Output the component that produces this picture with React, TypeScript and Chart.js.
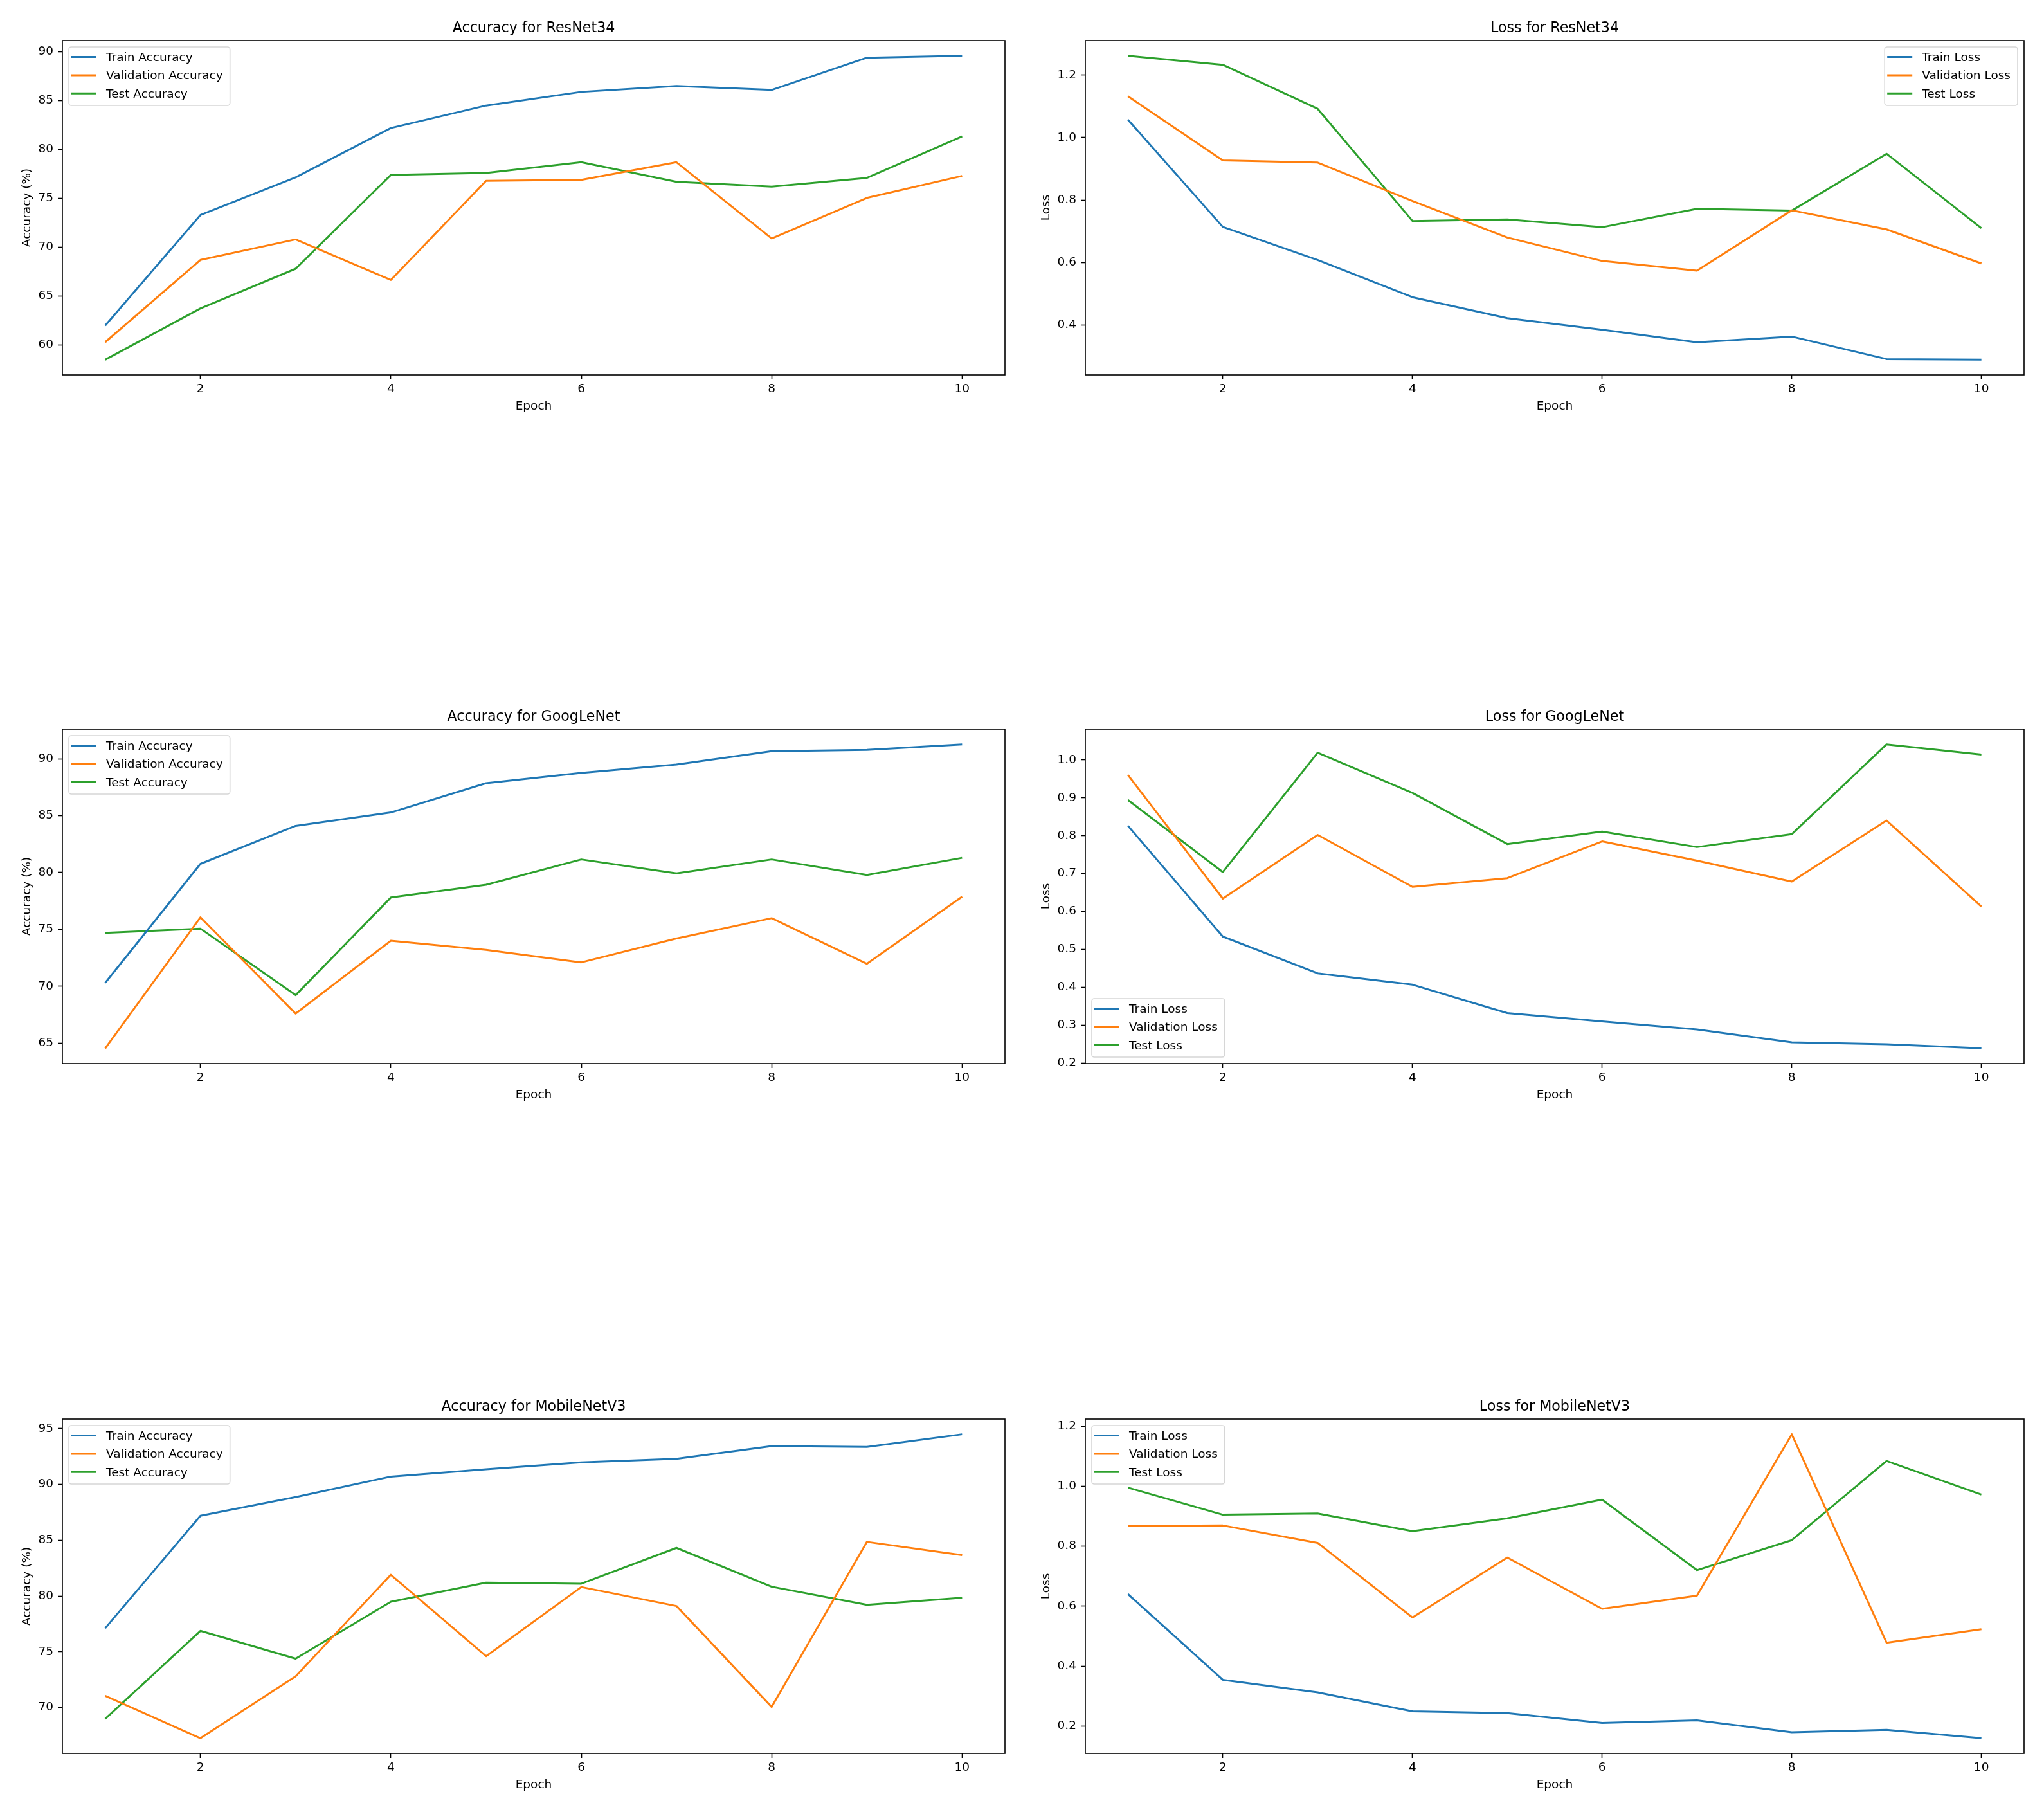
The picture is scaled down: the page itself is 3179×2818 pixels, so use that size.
import React, { useEffect, useRef } from "react";
import { Chart, registerables } from "chart.js";

Chart.register(...registerables);

const FONT = '"DejaVu Sans", "Liberation Sans", sans-serif';
const COLORS = ["#1f77b4", "#ff7f0e", "#2ca02c"];
const LABEL_SIZE = 18.5;
const TITLE_SIZE = 22.2;

// ---- data ----
const epochs = [1, 2, 3, 4, 5, 6, 7, 8, 9, 10];
const xTicks = [2, 4, 6, 8, 10];

const accLabels = ["Train Accuracy", "Validation Accuracy", "Test Accuracy"];
const lossLabels = ["Train Loss", "Validation Loss", "Test Loss"];

const resnetTrainAcc = [62.0, 73.3, 77.15, 82.2, 84.5, 85.9, 86.5, 86.1, 89.4, 89.6];
const resnetValAcc = [60.3, 68.7, 70.8, 66.65, 76.8, 76.9, 78.7, 70.9, 75.05, 77.3];
const resnetTestAcc = [58.5, 63.75, 67.8, 77.4, 77.6, 78.7, 76.7, 76.2, 77.1, 81.35];

const resnetTrainLoss = [1.057, 0.714, 0.608, 0.489, 0.422, 0.385, 0.345, 0.363, 0.291, 0.289];
const resnetValLoss = [1.132, 0.927, 0.92, 0.797, 0.68, 0.605, 0.574, 0.767, 0.706, 0.597];
const resnetTestLoss = [1.262, 1.233, 1.092, 0.733, 0.738, 0.713, 0.772, 0.766, 0.948, 0.71];

const googTrainAcc = [70.3, 80.76, 84.1, 85.28, 87.86, 88.76, 89.5, 90.67, 90.78, 91.27];
const googValAcc = [64.54, 76.06, 67.6, 74.0, 73.2, 72.1, 74.2, 75.99, 71.98, 77.88];
const googTestAcc = [74.7, 75.07, 69.22, 77.8, 78.92, 81.15, 79.93, 81.15, 79.79, 81.29];

const googTrainLoss = [0.826, 0.534, 0.437, 0.407, 0.332, 0.31, 0.289, 0.255, 0.25, 0.239];
const googValLoss = [0.96, 0.634, 0.802, 0.665, 0.688, 0.785, 0.734, 0.679, 0.84, 0.613];
const googTestLoss = [0.894, 0.704, 1.019, 0.913, 0.778, 0.811, 0.77, 0.804, 1.041, 1.014];

const mobTrainAcc = [77.11, 87.19, 88.86, 90.7, 91.35, 91.98, 92.29, 93.43, 93.36, 94.49];
const mobValAcc = [71.04, 67.24, 72.8, 81.9, 74.6, 80.8, 79.1, 70.05, 84.85, 83.66];
const mobTestAcc = [68.98, 76.87, 74.38, 79.48, 81.2, 81.1, 84.31, 80.83, 79.21, 79.84];

const mobTrainLoss = [0.64, 0.354, 0.312, 0.249, 0.243, 0.21, 0.219, 0.179, 0.187, 0.159];
const mobValLoss = [0.867, 0.869, 0.811, 0.562, 0.762, 0.591, 0.635, 1.173, 0.478, 0.523];
const mobTestLoss = [0.995, 0.905, 0.909, 0.85, 0.893, 0.955, 0.72, 0.82, 1.084, 0.972];

const resnetAccTicks = [60, 65, 70, 75, 80, 85, 90];
const resnetLossTicks = [0.4, 0.6, 0.8, 1.0, 1.2];
const googAccTicks = [65, 70, 75, 80, 85, 90];
const googLossTicks = [0.2, 0.3, 0.4, 0.5, 0.6, 0.7, 0.8, 0.9, 1.0];
const mobAccTicks = [70, 75, 80, 85, 90, 95];
const mobLossTicks = [0.2, 0.4, 0.6, 0.8, 1.0, 1.2];

// ---- layout constants (page pixels) ----
const LEFT_SPACE = 100; // room for y tick labels and y title
const TOP_SPACE = 60; // room for the panel title
const RIGHT_SPACE = 20;
const BOTTOM_SPACE = 70; // room for x tick labels and x title

type LegendLoc = "upper left" | "upper right" | "lower left";

interface PanelProps {
  left: number;
  top: number;
  width: number;
  height: number;
  title: string;
  yLabel: string;
  yTitlePad: number;
  labels: string[];
  series: number[][];
  yTicks: number[];
  decimals: number;
  legendLoc: LegendLoc;
}

// 5% auto margins on each side of the data range
function paddedRange(values: number[]): [number, number] {
  const lo = Math.min(...values);
  const hi = Math.max(...values);
  const m = (hi - lo) * 0.05;
  return [lo - m, hi + m];
}

const framePlugin = {
  id: "axesFrame",
  afterDatasetsDraw(chart: any) {
    const { ctx, chartArea: a } = chart;
    ctx.save();
    ctx.strokeStyle = "#000";
    ctx.lineWidth = 1.6;
    ctx.strokeRect(a.left, a.top, a.right - a.left, a.bottom - a.top);
    ctx.restore();
  },
};

const panelTitlePlugin = {
  id: "panelTitle",
  afterDraw(chart: any, _args: any, opts: any) {
    const { ctx, chartArea: a } = chart;
    ctx.save();
    ctx.font = `${TITLE_SIZE}px ${FONT}`;
    ctx.fillStyle = "#000";
    ctx.textAlign = "center";
    ctx.textBaseline = "alphabetic";
    ctx.fillText(opts.text, (a.left + a.right) / 2, a.top - 13);
    ctx.restore();
  },
};

const boxLegendPlugin = {
  id: "boxLegend",
  afterDraw(chart: any, _args: any, opts: any) {
    const { ctx, chartArea: a } = chart;
    const sets = chart.data.datasets;
    ctx.save();
    ctx.font = `${LABEL_SIZE}px ${FONT}`;
    const textW = Math.max(...sets.map((d: any) => ctx.measureText(d.label).width));
    const w = 57 + textW + 12;
    const h = 91;
    const loc: string = opts.loc;
    const x0 = loc.includes("right") ? a.right - 10 - w : a.left + 10;
    const y0 = loc.includes("lower") ? a.bottom - 10 - h : a.top + 10;

    ctx.beginPath();
    ctx.roundRect(x0, y0, w, h, 4);
    ctx.fillStyle = "rgba(255,255,255,0.8)";
    ctx.fill();
    ctx.strokeStyle = "rgba(204,204,204,0.8)";
    ctx.lineWidth = 1.6;
    ctx.stroke();

    sets.forEach((d: any, i: number) => {
      const cy = y0 + 15.6 + i * 28.3;
      ctx.beginPath();
      ctx.moveTo(x0 + 4, cy);
      ctx.lineTo(x0 + 43, cy);
      ctx.strokeStyle = d.borderColor;
      ctx.lineWidth = 3;
      ctx.stroke();
      ctx.fillStyle = "#000";
      ctx.textAlign = "left";
      ctx.textBaseline = "alphabetic";
      ctx.fillText(d.label, x0 + 58, cy + 6.5);
    });
    ctx.restore();
  },
};

function Panel(p: PanelProps) {
  const ref = useRef<HTMLCanvasElement | null>(null);

  useEffect(() => {
    const canvas = ref.current;
    if (!canvas) return;
    const [yMin, yMax] = paddedRange(p.series.flat());
    const [xMin, xMax] = paddedRange(epochs);
    const tickFont = { family: FONT, size: LABEL_SIZE };
    const axisGrid = {
      display: true,
      drawOnChartArea: false,
      drawTicks: true,
      tickLength: 7,
      tickWidth: 1.6,
      tickColor: "#000",
    };

    const chart = new Chart(canvas, {
      type: "line",
      data: {
        datasets: p.series.map((s, i) => ({
          label: p.labels[i],
          data: epochs.map((e, j) => ({ x: e, y: s[j] })),
          borderColor: COLORS[i],
          backgroundColor: COLORS[i],
          borderWidth: 3,
          borderJoinStyle: "round" as const,
          pointRadius: 0,
          tension: 0,
          fill: false,
        })),
      },
      options: {
        responsive: false,
        animation: false,
        devicePixelRatio: 1,
        events: [],
        layout: { padding: { top: TOP_SPACE, right: RIGHT_SPACE, left: 0, bottom: 0 } },
        plugins: {
          legend: { display: false },
          title: { display: false },
          tooltip: { enabled: false },
          boxLegend: { loc: p.legendLoc },
          panelTitle: { text: p.title },
        } as any,
        scales: {
          x: {
            type: "linear",
            min: xMin,
            max: xMax,
            afterBuildTicks: (s: any) => {
              s.ticks = xTicks.map((v) => ({ value: v }));
            },
            afterFit: (s: any) => {
              s.height = BOTTOM_SPACE;
            },
            ticks: {
              font: tickFont,
              color: "#000",
              padding: 4,
              maxRotation: 0,
              autoSkip: false,
              callback: (v: any) => String(v),
            },
            grid: axisGrid,
            border: { display: false },
            title: {
              display: true,
              text: "Epoch",
              font: tickFont,
              color: "#000",
              padding: { top: 0, bottom: 10 },
            },
          },
          y: {
            type: "linear",
            min: yMin,
            max: yMax,
            afterBuildTicks: (s: any) => {
              s.ticks = p.yTicks.map((v) => ({ value: v }));
            },
            afterFit: (s: any) => {
              s.width = LEFT_SPACE;
            },
            ticks: {
              font: tickFont,
              color: "#000",
              padding: 7,
              autoSkip: false,
              callback: (v: any) => Number(v).toFixed(p.decimals),
            },
            grid: axisGrid,
            border: { display: false },
            title: {
              display: true,
              text: p.yLabel,
              font: tickFont,
              color: "#000",
              padding: { top: p.yTitlePad, bottom: 0 },
            },
          },
        },
      } as any,
      plugins: [framePlugin, boxLegendPlugin, panelTitlePlugin],
    });
    return () => chart.destroy();
  }, []);

  const cw = p.width + LEFT_SPACE + RIGHT_SPACE;
  const ch = p.height + TOP_SPACE + BOTTOM_SPACE;
  return (
    <canvas
      ref={ref}
      width={cw}
      height={ch}
      style={{
        position: "absolute",
        left: p.left - LEFT_SPACE,
        top: p.top - TOP_SPACE,
        width: cw,
        height: ch,
      }}
    />
  );
}

const COL_LEFT = [97, 1688];
const COL_WIDTH = [1466, 1460];
const ROW_TOP = [63, 1134, 2207];
const PLOT_H = 520;

export default function App() {
  const acc = (row: number) => ({
    left: COL_LEFT[0],
    top: ROW_TOP[row],
    width: COL_WIDTH[0],
    height: PLOT_H,
    yLabel: "Accuracy (%)",
    yTitlePad: 34,
    labels: accLabels,
    decimals: 0,
  });
  const loss = (row: number) => ({
    left: COL_LEFT[1],
    top: ROW_TOP[row],
    width: COL_WIDTH[1],
    height: PLOT_H,
    yLabel: "Loss",
    yTitlePad: 28,
    labels: lossLabels,
    decimals: 1,
  });

  return (
    <div
      style={{
        position: "absolute",
        left: 0,
        top: 0,
        width: 3179,
        height: 2818,
        background: "#fff",
        overflow: "hidden",
      }}
    >
      <Panel
        {...acc(0)}
        title="Accuracy for ResNet34"
        series={[resnetTrainAcc, resnetValAcc, resnetTestAcc]}
        yTicks={resnetAccTicks}
        legendLoc="upper left"
      />
      <Panel
        {...loss(0)}
        title="Loss for ResNet34"
        series={[resnetTrainLoss, resnetValLoss, resnetTestLoss]}
        yTicks={resnetLossTicks}
        legendLoc="upper right"
      />
      <Panel
        {...acc(1)}
        title="Accuracy for GoogLeNet"
        series={[googTrainAcc, googValAcc, googTestAcc]}
        yTicks={googAccTicks}
        legendLoc="upper left"
      />
      <Panel
        {...loss(1)}
        title="Loss for GoogLeNet"
        series={[googTrainLoss, googValLoss, googTestLoss]}
        yTicks={googLossTicks}
        legendLoc="lower left"
      />
      <Panel
        {...acc(2)}
        title="Accuracy for MobileNetV3"
        series={[mobTrainAcc, mobValAcc, mobTestAcc]}
        yTicks={mobAccTicks}
        legendLoc="upper left"
      />
      <Panel
        {...loss(2)}
        title="Loss for MobileNetV3"
        series={[mobTrainLoss, mobValLoss, mobTestLoss]}
        yTicks={mobLossTicks}
        legendLoc="upper left"
      />
    </div>
  );
}
